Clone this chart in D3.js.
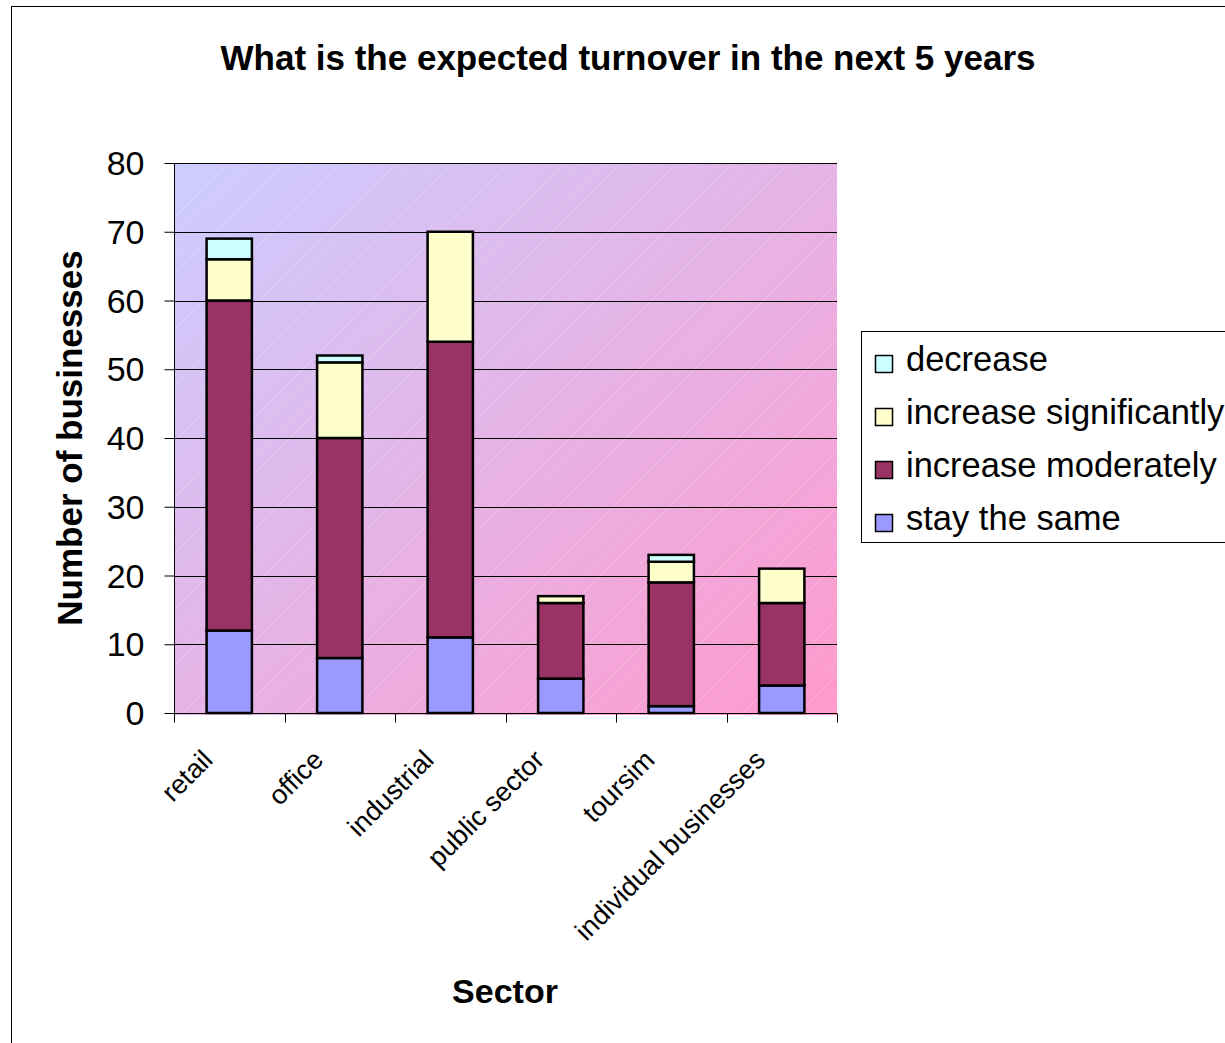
<!DOCTYPE html>
<html>
<head>
<meta charset="utf-8">
<script src="https://cdn.jsdelivr.net/npm/d3@7"></script>
<style>
  html, body { margin: 0; padding: 0; background: #fff; }
  svg { display: block; font-family: "Liberation Sans", Arial, sans-serif; }
</style>
</head>
<body>
<svg id="chart" width="1225" height="1043"></svg>
<script>
// ---- data ----
const categories = ["retail", "office", "industrial", "public sector", "toursim", "individual businesses"];
const stayTheSame = [12, 8, 11, 5, 1, 4];
const increaseModerately = [48, 32, 43, 11, 18, 12];
const increaseSignificantly = [6, 11, 16, 1, 3, 5];
const decrease = [3, 1, 0, 0, 1, 0];
const seriesNames = ["stay the same", "increase moderately", "increase significantly", "decrease"];
const yTicks = [0, 10, 20, 30, 40, 50, 60, 70, 80];
const titleText = "What is the expected turnover in the next 5 years";
const xTitle = "Sector";
const yTitle = "Number of businesses";

const colors = {
  "stay the same": "#9999FF",
  "increase moderately": "#993366",
  "increase significantly": "#FFFFCC",
  "decrease": "#CCFFFF"
};

const seriesValues = [stayTheSame, increaseModerately, increaseSignificantly, decrease];
const table = categories.map((c, i) => {
  const row = { category: c };
  seriesNames.forEach((s, j) => row[s] = seriesValues[j][i]);
  return row;
});

const svg = d3.select("#chart");
const margin = { left: 174, top: 163, right: 837, bottom: 713 };

// outer border
svg.append("rect").attr("x", 11.5).attr("y", 6.5).attr("width", 1300).attr("height", 1100)
  .attr("fill", "#fff").attr("stroke", "#000").attr("stroke-width", 1);

const defs = svg.append("defs");
const grad = defs.append("linearGradient").attr("id", "bg")
  .attr("x1", "0%").attr("y1", "0%").attr("x2", "100%").attr("y2", "100%");
grad.append("stop").attr("offset", "0%").attr("stop-color", "#CCCCFF");
grad.append("stop").attr("offset", "100%").attr("stop-color", "#FF99CC");
const pat = defs.append("pattern").attr("id", "stripes").attr("patternUnits", "userSpaceOnUse")
  .attr("width", 14).attr("height", 14);
pat.append("path").attr("d", "M-1,1 l2,-2 M0,14 l14,-14 M13,15 l2,-2")
  .attr("stroke", "#fff").attr("stroke-opacity", 0.2).attr("stroke-width", 1);

const x = d3.scaleBand().domain(categories).range([margin.left, margin.right]).padding(0);
const y = d3.scaleLinear().domain([0, 80]).range([margin.bottom, margin.top]);

// plot background
svg.append("rect").attr("x", margin.left).attr("y", margin.top)
  .attr("width", margin.right - margin.left).attr("height", margin.bottom - margin.top + 2)
  .attr("fill", "url(#bg)");
svg.append("rect").attr("x", margin.left).attr("y", margin.top)
  .attr("width", margin.right - margin.left).attr("height", margin.bottom - margin.top + 2)
  .attr("fill", "url(#stripes)");

// gridlines
svg.append("g").selectAll("line").data(yTicks.filter(d => d > 0)).join("line")
  .attr("x1", margin.left).attr("x2", margin.right)
  .attr("y1", d => Math.round(y(d)) + 0.5).attr("y2", d => Math.round(y(d)) + 0.5)
  .attr("stroke", "#000").attr("stroke-width", 1);

// stacked bars
const stack = d3.stack().keys(seriesNames);
const stacked = stack(table);
const barW = x.bandwidth() * 0.41;
svg.append("g").selectAll("g").data(stacked).join("g")
  .attr("fill", d => colors[d.key])
  .selectAll("rect").data(d => d.filter(s => s[1] - s[0] > 0)).join("rect")
  .attr("x", d => x(d.data.category) + x.bandwidth() / 2 - barW / 2)
  .attr("y", d => y(d[1]))
  .attr("width", barW)
  .attr("height", d => y(d[0]) - y(d[1]))
  .attr("stroke", "#000").attr("stroke-width", 2.5);

// y axis
const yAxis = d3.axisLeft(y).tickValues(yTicks).tickSize(10).tickPadding(20);
const gy = svg.append("g").attr("transform", `translate(${margin.left + 0.5},0)`).call(yAxis);
gy.select(".domain").attr("stroke", "#000").attr("d", `M0,${margin.top}V${margin.bottom}`);
gy.selectAll(".tick line").attr("stroke", "#000");
gy.selectAll(".tick text").attr("font-size", 34).attr("fill", "#000")
  .attr("font-family", "'Liberation Sans', Arial, sans-serif").attr("dy", "0.34em");

// x axis
const gx = svg.append("g").attr("transform", `translate(0,${margin.bottom + 0.5})`);
gx.append("line").attr("x1", margin.left).attr("x2", margin.right).attr("stroke", "#000");
const boundaries = categories.map(c => x(c)).concat([x.range()[1]]);
gx.selectAll("line.tk").data(boundaries).join("line").attr("class", "tk")
  .attr("x1", d => Math.round(d) + 0.5).attr("x2", d => Math.round(d) + 0.5)
  .attr("y1", 0).attr("y2", 9).attr("stroke", "#000");
gx.selectAll("text").data(categories).join("text")
  .attr("transform", d => `translate(${x(d) + x.bandwidth() / 2 - 15},${48}) rotate(-45)`)
  .attr("text-anchor", "end")
  .attr("font-size", 27).attr("fill", "#000")
  .text(d => d);

// titles
svg.append("text").attr("x", 628).attr("y", 70).attr("text-anchor", "middle")
  .attr("font-size", 35).attr("font-weight", "bold").text(titleText);
svg.append("text").attr("x", 505).attr("y", 1003).attr("text-anchor", "middle")
  .attr("font-size", 34).attr("font-weight", "bold").text(xTitle);
svg.append("text").attr("transform", "translate(82,438) rotate(-90)").attr("text-anchor", "middle")
  .attr("font-size", 35).attr("font-weight", "bold").text(yTitle);

// legend
const lg = svg.append("g");
lg.append("rect").attr("x", 861.5).attr("y", 331.5).attr("width", 400).attr("height", 211)
  .attr("fill", "#fff").attr("stroke", "#000").attr("stroke-width", 1);
const legendOrder = seriesNames.slice().reverse();
const items = lg.selectAll("g.item").data(legendOrder).join("g").attr("class", "item")
  .attr("transform", (d, i) => `translate(0,${371 + i * 53})`);
items.append("rect").attr("x", 875.5).attr("y", -15.5).attr("width", 17).attr("height", 17)
  .attr("fill", d => colors[d]).attr("stroke", "#000").attr("stroke-width", 1.5);
items.append("text").attr("x", 906).attr("y", 0).attr("font-size", 34.5).attr("fill", "#000")
  .text(d => d);
</script>
</body>
</html>
